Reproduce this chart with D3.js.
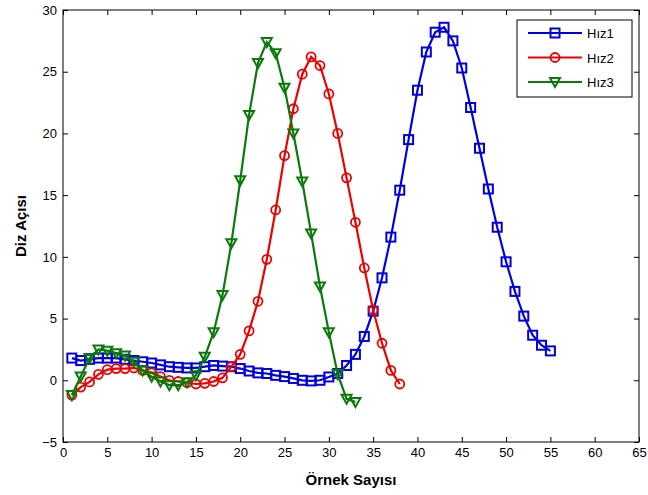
<!DOCTYPE html>
<html>
<head>
<meta charset="utf-8">
<script src="https://cdn.jsdelivr.net/npm/d3@7"></script>
<style>
  body { margin: 0; background: #fff; }
  svg { display: block; font-family: "Liberation Sans", Arial, sans-serif; }
</style>
</head>
<body>
<div id="chart"></div>
<script>
const hiz1 = [1.8, 1.6, 1.7, 1.8, 1.8, 1.8, 1.7, 1.6, 1.5, 1.4, 1.25, 1.1, 1.05, 1.0, 1.0,
  1.1, 1.2, 1.15, 1.1, 0.95, 0.75, 0.6, 0.55, 0.4, 0.3, 0.15, 0.0, -0.05, 0.0, 0.27,
  0.55, 1.2, 2.1, 3.55, 5.6, 8.3, 11.6, 15.4, 19.5, 23.5, 26.6, 28.2, 28.6, 27.5, 25.3,
  22.1, 18.8, 15.5, 12.4, 9.6, 7.2, 5.2, 3.65, 2.84, 2.38];
const hiz2 = [-1.2, -0.55, -0.13, 0.48, 0.86, 0.95, 0.95, 1.0, 0.8, 0.6, 0.3, 0.0, -0.1, -0.2,
  -0.3, -0.25, -0.1, 0.2, 1.1, 2.1, 4.0, 6.4, 9.8, 13.8, 18.2, 22.0, 24.8, 26.2, 25.5,
  23.2, 20.0, 16.4, 12.8, 9.1, 5.7, 3.0, 0.8, -0.3];
const hiz3 = [-1.2, 0.3, 1.8, 2.5, 2.4, 2.2, 2.0, 1.5, 0.8, 0.3, -0.1, -0.4, -0.4, -0.15, 0.4,
  1.9, 3.9, 6.9, 11.1, 16.2, 21.5, 25.7, 27.4, 26.5, 23.7, 20.0, 16.1, 11.9, 7.6, 3.9,
  0.5, -1.5, -1.76];
const seriesNames = ["Hız1", "Hız2", "Hız3"];
const xTicks = d3.range(0, 66, 5);
const yTicks = d3.range(-5, 31, 5);

const width = 648, height = 495;
const margin = { top: 10, right: 9, bottom: 53, left: 63 };
const colors = ["#0000e0", "#ee0000", "#0a7a0a"];
const shapes = ["square", "circle", "triangle"];

const svg = d3.select("#chart").append("svg")
  .attr("width", width).attr("height", height);

const x = d3.scaleLinear().domain([0, 65]).range([margin.left, width - margin.right]);
const y = d3.scaleLinear().domain([-5, 30]).range([height - margin.bottom, margin.top]);

// ticks pointing inward on all four sides
const tl = 5;
svg.append("g")
  .attr("transform", `translate(0,${y(-5)})`)
  .call(d3.axisBottom(x).tickValues(xTicks).tickSize(-tl).tickPadding(6))
  .call(g => g.select(".domain").remove());
svg.append("g")
  .attr("transform", `translate(0,${y(30)})`)
  .call(d3.axisTop(x).tickValues(xTicks).tickSize(-tl).tickFormat(""))
  .call(g => g.select(".domain").remove());
svg.append("g")
  .attr("transform", `translate(${x(0)},0)`)
  .call(d3.axisLeft(y).tickValues(yTicks).tickSize(-tl).tickPadding(6))
  .call(g => g.select(".domain").remove());
svg.append("g")
  .attr("transform", `translate(${x(65)},0)`)
  .call(d3.axisRight(y).tickValues(yTicks).tickSize(-tl).tickFormat(""))
  .call(g => g.select(".domain").remove());

svg.selectAll(".tick text").attr("font-size", 13).attr("fill", "#000")
  .attr("font-family", "Liberation Sans, Arial, sans-serif");
svg.selectAll(".tick line").attr("stroke", "#000");

svg.append("rect")
  .attr("x", x(0)).attr("y", y(30))
  .attr("width", x(65) - x(0)).attr("height", y(-5) - y(30))
  .attr("fill", "none").attr("stroke", "#000").attr("stroke-width", 1);

function marker(sel, shape, color) {
  if (shape === "square") {
    sel.append("rect").attr("x", -4.5).attr("y", -4.5).attr("width", 9).attr("height", 9)
      .attr("fill", "none").attr("stroke", color).attr("stroke-width", 2);
  } else if (shape === "circle") {
    sel.append("circle").attr("r", 4.5)
      .attr("fill", "none").attr("stroke", color).attr("stroke-width", 1.8);
  } else {
    sel.append("path").attr("d", "M-5,-4L5,-4L0,5Z")
      .attr("fill", "none").attr("stroke", color).attr("stroke-width", 2);
  }
}

const line = d3.line().x((d, i) => x(i + 1)).y(d => y(d));
[hiz1, hiz2, hiz3].forEach((vals, k) => {
  svg.append("path")
    .datum(vals)
    .attr("fill", "none")
    .attr("stroke", colors[k])
    .attr("stroke-width", 2.2)
    .attr("d", line);
  svg.append("g").selectAll("g")
    .data(vals).enter().append("g")
    .attr("transform", (d, i) => `translate(${x(i + 1)},${y(d)})`)
    .each(function () { marker(d3.select(this), shapes[k], colors[k]); });
});

// legend
const lg = svg.append("g").attr("transform", "translate(517,20)");
lg.append("rect").attr("width", 115).attr("height", 77)
  .attr("fill", "#fff").attr("stroke", "#000").attr("stroke-width", 1);
seriesNames.forEach((name, k) => {
  const yy = 13 + k * 24.5;
  lg.append("line").attr("x1", 11).attr("x2", 65).attr("y1", yy).attr("y2", yy)
    .attr("stroke", colors[k]).attr("stroke-width", 2.2);
  marker(lg.append("g").attr("transform", `translate(38,${yy})`), shapes[k], colors[k]);
  lg.append("text").attr("x", 70).attr("y", yy + 5)
    .attr("font-size", 13).text(name);
});

// axis titles
svg.append("text")
  .attr("x", (x(0) + x(65)) / 2).attr("y", 485)
  .attr("text-anchor", "middle").attr("font-size", 15).attr("font-weight", "bold")
  .text("Örnek Sayısı");
svg.append("text")
  .attr("transform", `translate(26,${(y(-5) + y(30)) / 2}) rotate(-90)`)
  .attr("text-anchor", "middle").attr("font-size", 15).attr("font-weight", "bold")
  .text("Diz Açısı");
</script>
</body>
</html>
